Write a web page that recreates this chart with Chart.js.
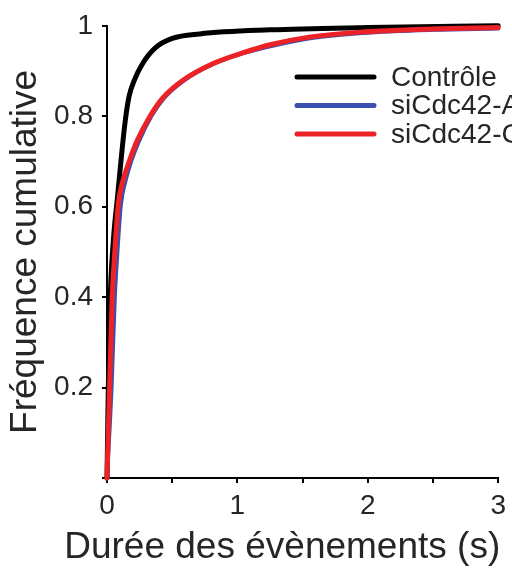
<!DOCTYPE html>
<html lang="fr">
<head>
  <meta charset="UTF-8" />
  <title>Fréquence cumulative</title>
  <script src="https://cdn.jsdelivr.net/npm/chart.js"></script>
  <style>
    body { margin: 0; background: #fff; }
    #wrap { width: 512px; height: 572px; position: relative; }
  </style>
</head>
<body>
  <div id="wrap"><canvas id="cdfChart"></canvas></div>

  <script>
    // courbes (durée en s, fréquence cumulative)
    const controleX = [0, 0.01, 0.025, 0.05, 0.08, 0.11, 0.14, 0.17, 0.21, 0.27, 0.37, 0.5, 0.71, 1.25, 2, 3];
    const controleY = [0, 0.2, 0.4, 0.53, 0.62, 0.71, 0.79, 0.845, 0.88, 0.915, 0.951, 0.972, 0.982, 0.991, 0.996, 1.0];

    const siAX = [0, 0.035, 0.06, 0.08, 0.105, 0.12, 0.14, 0.185, 0.245, 0.34, 0.44, 0.59, 0.82, 1.05, 1.27, 1.57, 1.96, 2.5, 3];
    const siAY = [0, 0.2, 0.4, 0.5, 0.6, 0.63, 0.655, 0.7, 0.745, 0.8, 0.841, 0.879, 0.916, 0.94, 0.956, 0.973, 0.984, 0.991, 0.994];

    const siCX = [0, 0.02, 0.04, 0.06, 0.085, 0.1, 0.12, 0.17, 0.23, 0.33, 0.43, 0.58, 0.81, 1.04, 1.25, 1.55, 1.94, 2.5, 3];
    const siCY = [0, 0.2, 0.4, 0.5, 0.6, 0.63, 0.655, 0.7, 0.745, 0.8, 0.841, 0.879, 0.916, 0.94, 0.958, 0.975, 0.986, 0.993, 0.996];

    const seriesNames = ['Contrôle', 'siCdc42-A', 'siCdc42-C'];
    const xTitle = 'Durée des évènements (s)';
    const yTitle = 'Fréquence cumulative';

    const pts = (xs, ys) => xs.map((x, i) => ({ x: x, y: ys[i] }));
    const FONT = '"Liberation Sans", Arial, sans-serif';

    // légende dans la zone du graphique + titre de l'axe x (sans maxWidth)
    const extras = {
      id: 'extras',
      afterDraw(chart) {
        const ctx = chart.ctx;
        const area = chart.chartArea;
        ctx.save();
        ctx.font = '28px ' + FONT;
        ctx.textBaseline = 'middle';
        ctx.lineCap = 'round';
        chart.data.datasets.forEach((ds, i) => {
          const y = 77 + i * 28.5;
          ctx.strokeStyle = ds.borderColor;
          ctx.lineWidth = 5;
          ctx.beginPath();
          ctx.moveTo(297, y);
          ctx.lineTo(374, y);
          ctx.stroke();
          ctx.fillStyle = '#262626';
          ctx.fillText(ds.label, 391, y + 1);
        });

        ctx.font = '37px ' + FONT;
        ctx.textAlign = 'right';
        ctx.textBaseline = 'alphabetic';
        ctx.fillStyle = '#262626';
        ctx.fillText(xTitle, area.right + 2, 558);
        ctx.restore();
      }
    };

    const tickFont = { family: FONT, size: 28 };

    new Chart(document.getElementById('cdfChart'), {
      type: 'scatter',
      data: {
        datasets: [
          { label: seriesNames[0], data: pts(controleX, controleY), borderColor: '#000000', borderWidth: 5, order: 2 },
          { label: seriesNames[1], data: pts(siAX, siAY), borderColor: '#3a4fb0', borderWidth: 4, order: 1 },
          { label: seriesNames[2], data: pts(siCX, siCY), borderColor: '#ec2227', borderWidth: 5, order: 0 }
        ].map(d => Object.assign(d, {
          showLine: true,
          pointRadius: 0,
          cubicInterpolationMode: 'monotone',
          borderCapStyle: 'round',
          clip: 6
        }))
      },
      options: {
        responsive: true,
        maintainAspectRatio: false,
        animation: false,
        layout: { padding: { top: 25, right: 13, left: 0, bottom: 0 } },
        plugins: {
          legend: { display: false },
          tooltip: { enabled: false }
        },
        scales: {
          x: {
            type: 'linear',
            min: 0,
            max: 3,
            afterFit: s => { s.height = 94; },
            border: { display: true, color: '#000', width: 2 },
            grid: { display: true, drawOnChartArea: false, drawTicks: true, tickLength: 5, color: '#000', lineWidth: 2 },
            ticks: {
              stepSize: 0.5,
              color: '#262626',
              font: tickFont,
              padding: 6,
              maxRotation: 0,
              autoSkip: false,
              callback: v => Number.isInteger(v) ? String(v) : ''
            }
          },
          y: {
            min: 0,
            max: 1,
            afterFit: s => { s.width = 107; },
            border: { display: true, color: '#000', width: 2 },
            grid: { display: true, drawOnChartArea: false, drawTicks: true, tickLength: 5, color: '#000', lineWidth: 2 },
            ticks: {
              stepSize: 0.2,
              color: '#262626',
              font: tickFont,
              padding: 9,
              callback: v => v === 0 ? '' : String(Math.round(v * 10) / 10)
            },
            title: {
              display: true,
              text: yTitle,
              color: '#262626',
              font: { family: FONT, size: 37 },
              padding: { top: 4, bottom: 0 }
            }
          }
        }
      },
      plugins: [extras]
    });
  </script>
</body>
</html>
